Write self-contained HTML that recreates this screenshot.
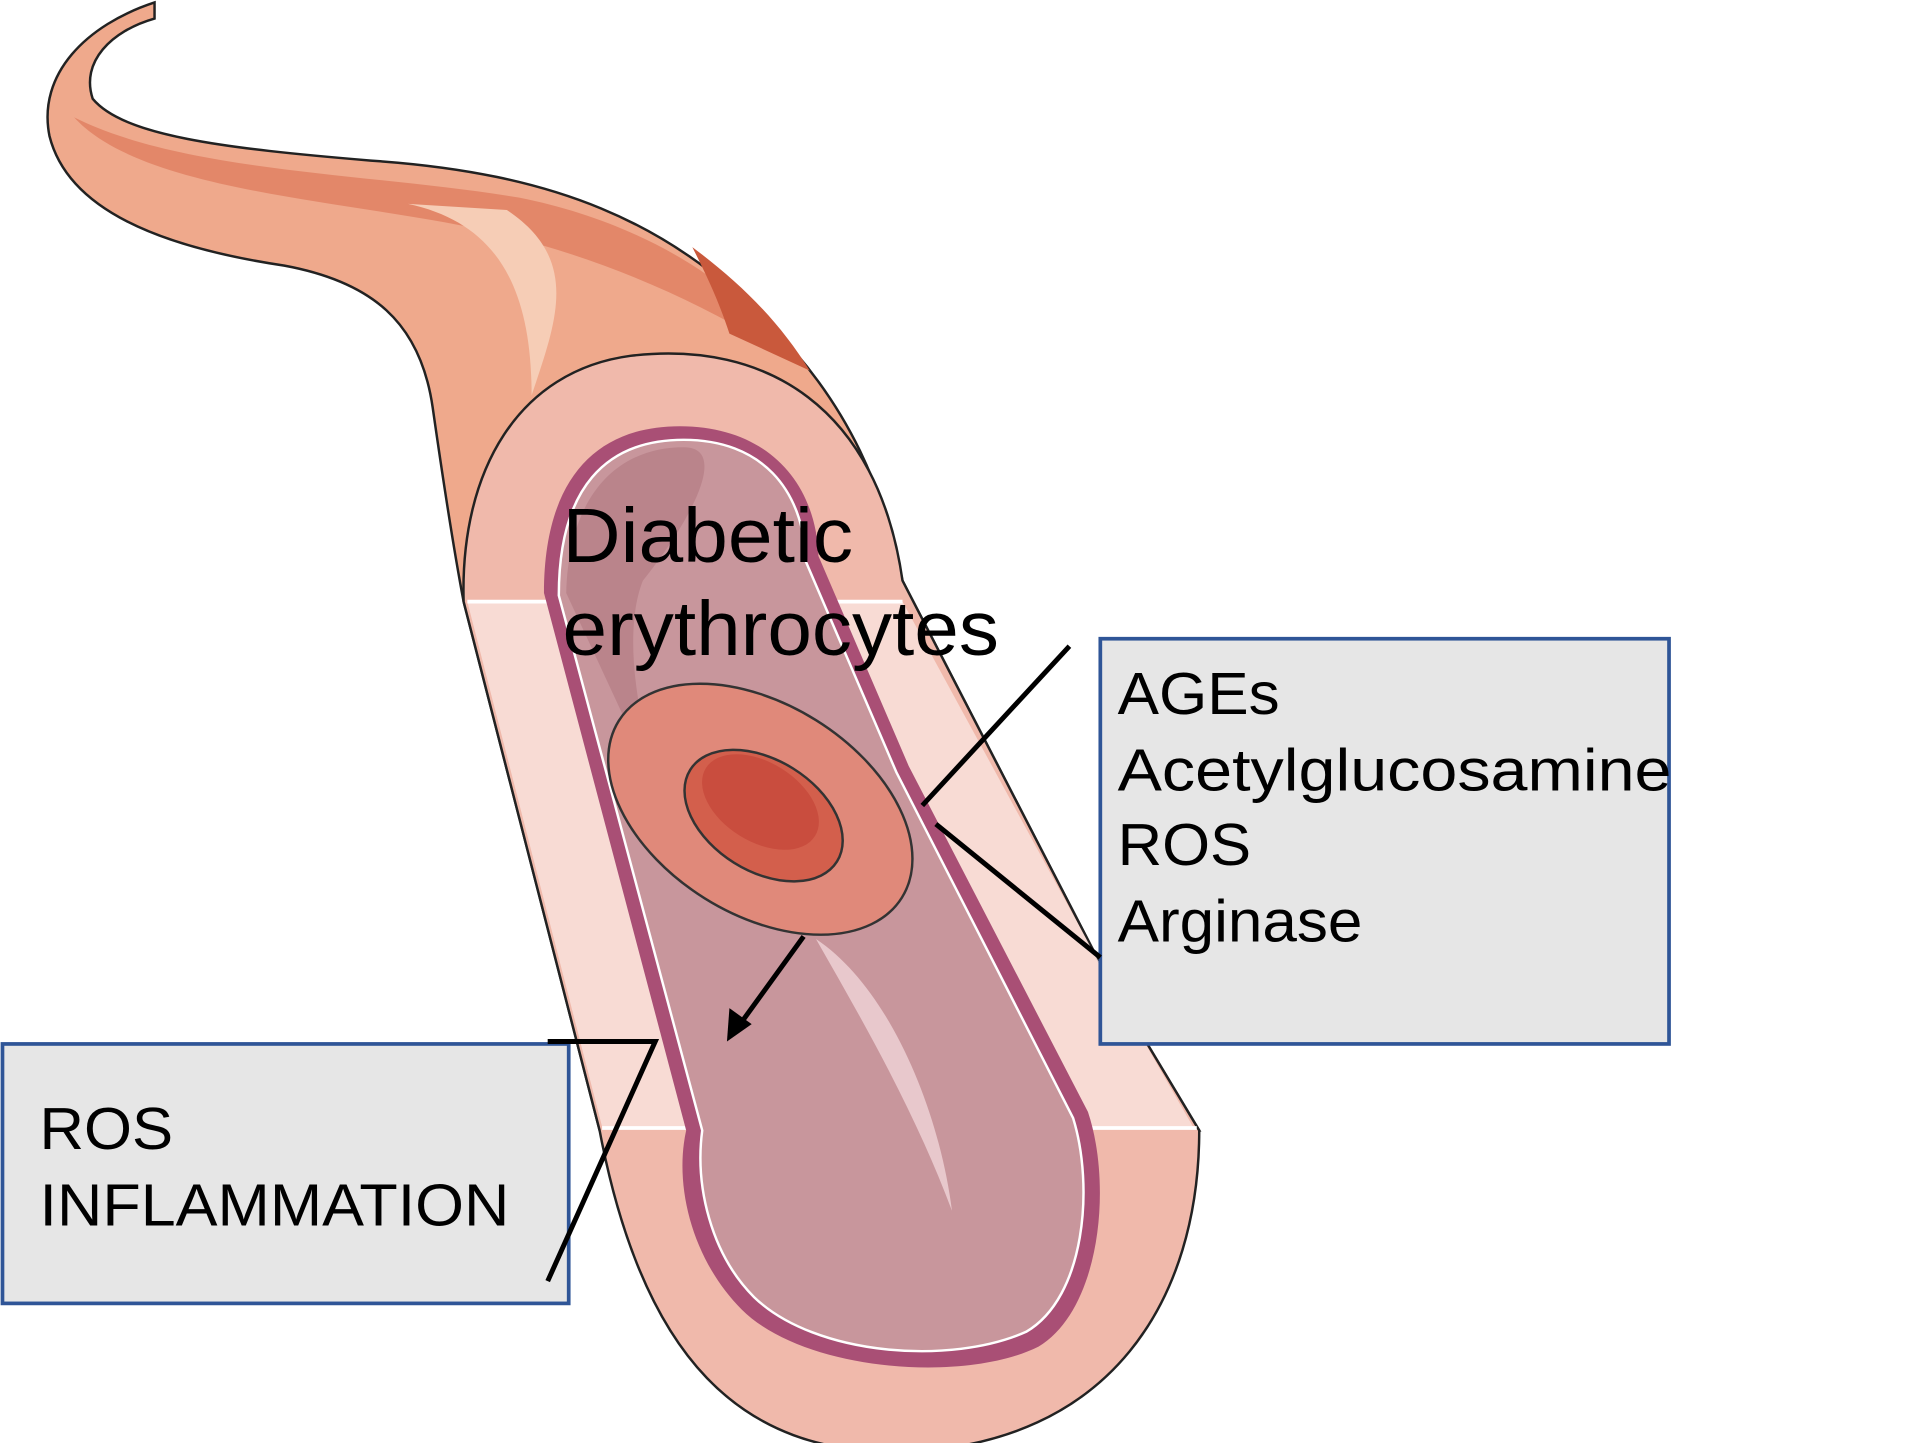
<!DOCTYPE html>
<html><head><meta charset="utf-8"><style>
html,body{margin:0;padding:0;background:#fff;width:1920px;height:1443px;overflow:hidden}
svg{display:block}
text{font-family:"Liberation Sans",Arial,sans-serif;fill:#000}
</style></head><body>
<svg width="1920" height="1443" viewBox="0 0 1553 1168" preserveAspectRatio="none" xmlns="http://www.w3.org/2000/svg">
<path d="M125,2 C70,20 30,60 40,110 C55,170 130,200 230,215 C300,228 340,260 350,330 C360,400 368,450 375,487 L485,915 L970,915 L895,790 L730,470 C715,400 690,330 620,260 C540,180 450,140 300,130 C180,120 100,110 75,80 C65,50 90,25 125,15 Z" fill="#efa98c" stroke="#222" stroke-width="2"/>
<path d="M60,95 C110,150 250,160 360,180 C470,200 560,240 640,290 C600,230 520,180 420,160 C300,140 150,140 60,95 Z" fill="#e07e60" opacity="0.8"/>
<path d="M330,165 C400,180 430,230 430,320 C450,260 470,210 410,170 Z" fill="#f6cdb6"/>
<path d="M560,200 C600,230 630,260 655,300 L590,270 C580,240 570,220 560,200 Z" fill="#c9593c"/>
<path d="M375,487 C372,380 420,300 510,288 C620,275 710,330 730,470 L895,790 L970,915 C970,1050 900,1170 730,1175 C600,1178 520,1100 485,915 Z" fill="#f0b9ab" stroke="#222" stroke-width="2"/>
<path d="M378,487 L730,487 L895,790 L965,912 L487,912 Z" fill="#f9e0da" opacity="0.85"/>
<path d="M378,487 L730,487 M487,913 L968,913" stroke="#fff" stroke-width="3"/>
<path d="M440,480 C440,390 480,345 550,345 C620,345 660,390 662,450 L735,620 L880,900 C900,960 890,1060 840,1090 C780,1120 650,1110 600,1060 C560,1020 545,960 555,915 Z" fill="#a94f75"/>
<path d="M452,482 C452,395 490,356 553,356 C615,356 650,395 652,455 L725,625 L868,905 C885,960 878,1050 830,1078 C770,1105 660,1098 610,1050 C575,1015 562,960 568,915 Z" fill="#c8969c" stroke="#fff" stroke-width="2"/>
<path d="M458,480 C460,400 500,362 553,362 C590,362 560,420 520,470 C500,520 520,620 560,700 Z" fill="#b07880" opacity="0.6"/>
<path d="M660,760 C720,800 760,900 770,980 C740,900 700,830 660,760 Z" fill="#e8c8cc"/>
<g transform="rotate(32 615 655)">
<ellipse cx="615" cy="655" rx="135" ry="85" fill="#e0897a" stroke="#333" stroke-width="2"/>
<ellipse cx="620" cy="658" rx="70" ry="45" fill="#d35f4c" stroke="#333" stroke-width="2"/>
<ellipse cx="612" cy="650" rx="52" ry="32" fill="#c94d3e"/>
</g>
<rect x="890" y="517" width="460" height="328" fill="#e6e6e6" stroke="#2f5597" stroke-width="3"/>
<rect x="2" y="845" width="458" height="210" fill="#e6e6e6" stroke="#2f5597" stroke-width="3"/>
<g stroke="#000" stroke-width="4" fill="none">
<line x1="865" y1="523" x2="746" y2="652"/>
<line x1="757" y1="667" x2="890" y2="775"/>
<line x1="650" y1="758" x2="595" y2="834"/>
<polyline points="443,843 530,843 443,1037"/>
</g>
<polygon points="588,843 590,816 608,829" fill="#000"/>
<text x="455" y="455" font-size="62" textLength="235" lengthAdjust="spacingAndGlyphs">Diabetic</text>
<text x="455" y="530" font-size="62" textLength="353" lengthAdjust="spacingAndGlyphs">erythrocytes</text>
<text x="904" y="578" font-size="48" textLength="131" lengthAdjust="spacingAndGlyphs">AGEs</text>
<text x="904" y="640" font-size="48" textLength="448" lengthAdjust="spacingAndGlyphs">Acetylglucosamine</text>
<text x="904" y="700" font-size="48" textLength="108" lengthAdjust="spacingAndGlyphs">ROS</text>
<text x="904" y="762" font-size="48" textLength="198" lengthAdjust="spacingAndGlyphs">Arginase</text>
<text x="32" y="930" font-size="48" textLength="108" lengthAdjust="spacingAndGlyphs">ROS</text>
<text x="32" y="992" font-size="48" textLength="380" lengthAdjust="spacingAndGlyphs">INFLAMMATION</text>
</svg>
</body></html>
